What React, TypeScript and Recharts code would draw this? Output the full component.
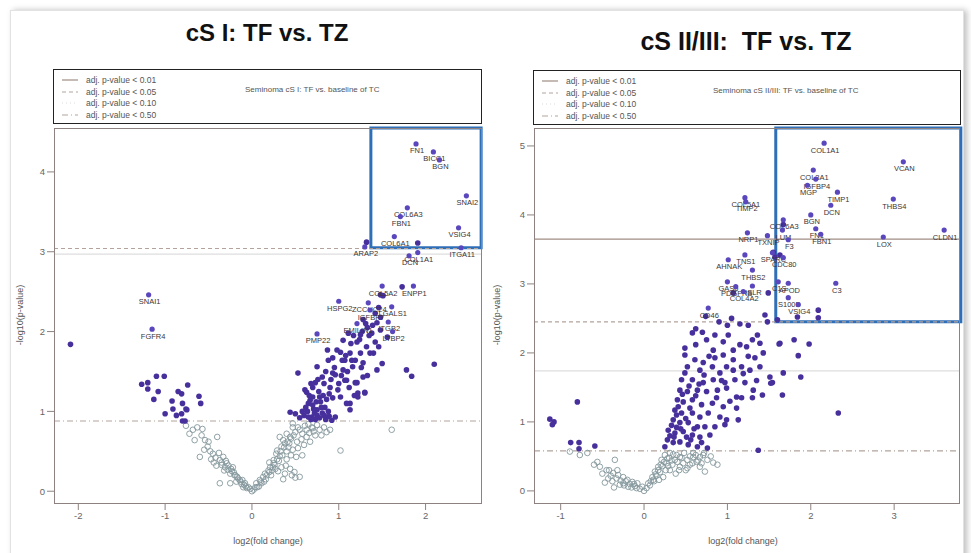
import React from 'react';
import { ScatterChart, Scatter, XAxis, YAxis, ReferenceLine, ReferenceArea } from 'recharts';

type P = [number, number];

// ---- cS I: TF vs. TZ ----
const leftUp: P[] = [
  [0.44, 0.99], [0.50, 0.97], [0.53, 1.48], [0.63, 1.24], [0.65, 1.10], [0.69, 0.93], [0.73, 1.36], [0.75, 1.56],
  [0.78, 1.18], [0.81, 1.43], [0.84, 1.05], [0.88, 1.64], [0.90, 1.30], [0.92, 0.89], [0.93, 1.48], [0.98, 1.77],
  [0.99, 1.27], [1.02, 1.18], [1.04, 1.64], [1.05, 1.52], [1.09, 1.39], [1.13, 1.02], [1.15, 1.64], [1.16, 1.56],
  [1.19, 1.36], [1.22, 1.18], [1.25, 1.73], [1.28, 1.43], [1.30, 1.24], [1.32, 1.81], [1.40, 1.73], [1.44, 1.52],
  [1.78, 1.52], [1.84, 1.44], [2.10, 1.59], [0.55, 0.92], [0.60, 0.95], [0.68, 0.90], [0.72, 0.98], [0.78, 0.92],
  [0.85, 0.90], [0.88, 1.00], [1.42, 2.23], [1.48, 2.18], [1.28, 2.15], [1.44, 2.11], [1.33, 2.05],
  [1.48, 2.02], [1.11, 1.98], [1.25, 1.96], [1.38, 1.98], [1.56, 1.93], [1.05, 1.89], [1.21, 1.87], [1.42, 1.87],
  [0.87, 1.77], [1.02, 1.74], [1.13, 1.73], [1.36, 1.73], [1.46, 1.81], [0.93, 1.67], [1.07, 1.64], [1.19, 1.64],
  [1.28, 1.61], [0.61, 1.27], [0.70, 1.18], [0.82, 1.20], [0.93, 1.17], [1.13, 1.10], [0.96, 1.46], [1.07, 1.39],
  [1.21, 1.36], [0.67, 1.14], [0.70, 1.08], [0.75, 1.02], [0.81, 0.98], [0.86, 0.93], [0.96, 0.93], [0.65, 0.93],
  [1.09, 1.10], [1.22, 1.23], [1.30, 1.23], [0.62, 1.05], [0.66, 1.20], [0.70, 1.30], [0.74, 1.12], [0.77, 1.25],
  [0.80, 1.05], [0.83, 1.35], [0.86, 1.15], [0.89, 1.22], [0.91, 1.40], [0.95, 1.55], [1.00, 1.35], [1.03, 1.45],
  [1.08, 1.70], [1.10, 1.50], [1.14, 1.85], [1.17, 1.95], [1.24, 1.90], [1.27, 2.00], [1.31, 2.10], [1.35, 1.95],
  [1.39, 2.08], [1.46, 2.30], [1.51, 2.45], [1.26, 1.55], [1.33, 1.45], [1.50, 1.60], [1.18, 1.20], [0.58, 1.00],
  [0.75, 0.95], [1.73, 2.56], [1.48, 2.46], [1.91, 3.11], [1.32, 3.12], [0.64, 1.00], [0.71, 1.03], [0.79, 1.12],
  [0.73, 0.90], [0.83, 0.95], [0.89, 0.94], [0.68, 1.35], [0.76, 1.40], [0.85, 1.50], [1.12, 1.30],
];
const leftDown: P[] = [
  [-2.09, 1.84], [-1.10, 1.44], [-1.01, 1.44], [-1.27, 1.34], [-1.20, 1.36], [-1.20, 1.28], [-1.08, 1.25],
  [-1.13, 1.15], [-0.85, 1.25], [-0.81, 1.22], [-0.74, 1.33], [-0.61, 1.19], [-0.59, 1.10], [-0.92, 1.13],
  [-0.80, 1.10], [-0.91, 1.03], [-0.76, 1.03], [-0.75, 1.02], [-1.00, 0.97], [-0.87, 0.95], [-0.81, 0.97],
  [-0.80, 0.88], [-0.77, 0.88],
];
const leftFaint: P[] = [
  [-0.68, 0.77], [-0.58, 0.70], [-0.66, 0.64], [-0.54, 0.64], [-0.51, 0.56], [-0.40, 0.68], [-0.60, 0.43],
  [-0.45, 0.47], [-0.37, 0.39], [-0.31, 0.30], [-0.25, 0.22], [-0.22, 0.30], [-0.17, 0.18], [-0.14, 0.14],
  [-0.08, 0.10], [-0.04, 0.05], [-0.37, 0.10], [-0.25, 0.10], [-0.72, 0.72], [-0.63, 0.80], [-0.48, 0.50],
  [-0.42, 0.42], [-0.35, 0.33], [-0.28, 0.27], [-0.20, 0.20], [-0.12, 0.09], [-0.06, 0.04], [-0.33, 0.43],
  [-0.29, 0.35], [-0.23, 0.25], [-0.18, 0.12], [-0.10, 0.05], [-0.76, 0.82], [-0.55, 0.52], [-0.44, 0.36],
  [-0.30, 0.38], [-0.27, 0.32], [-0.24, 0.28], [-0.21, 0.24], [-0.19, 0.20], [-0.16, 0.16], [-0.13, 0.12],
  [-0.11, 0.14], [-0.09, 0.08], [-0.07, 0.06], [-0.35, 0.36], [-0.32, 0.26], [-0.38, 0.48], [-0.50, 0.62],
  [-0.57, 0.78], [-0.47, 0.40], [-0.41, 0.32],
  [0.05, 0.10], [0.13, 0.18], [0.19, 0.26], [0.25, 0.35], [0.28, 0.47], [0.34, 0.56], [0.36, 0.64], [0.40, 0.72],
  [0.47, 0.80], [0.55, 0.77], [0.63, 0.68], [0.69, 0.80], [0.78, 0.77], [0.90, 0.77], [0.47, 0.52], [0.51, 0.43],
  [0.38, 0.22], [0.49, 0.24], [1.02, 0.51], [1.61, 0.77], [0.47, 0.85], [0.32, 0.68], [0.63, 0.77], [0.70, 0.79],
  [0.29, 0.51], [0.25, 0.39], [0.21, 0.30], [0.15, 0.22], [0.09, 0.14], [0.04, 0.05], [0.55, 0.18], [0.08, 0.06],
  [0.11, 0.10], [0.16, 0.15], [0.22, 0.20], [0.27, 0.28], [0.31, 0.38], [0.35, 0.45], [0.40, 0.50], [0.43, 0.60],
  [0.44, 0.68], [0.52, 0.62], [0.58, 0.72], [0.60, 0.58], [0.66, 0.73], [0.73, 0.70], [0.83, 0.80], [0.20, 0.36],
  [0.24, 0.30], [0.30, 0.25], [0.02, 0.02], [0.00, 0.00], [-0.02, 0.03],
  [0.06, 0.05], [0.10, 0.12], [0.14, 0.12], [0.17, 0.20], [0.20, 0.24], [0.23, 0.26], [0.26, 0.33], [0.29, 0.40],
  [0.32, 0.44], [0.33, 0.50], [0.37, 0.55], [0.38, 0.60], [0.41, 0.62], [0.42, 0.55], [0.45, 0.66], [0.48, 0.70],
  [0.50, 0.74], [0.53, 0.80], [0.57, 0.65], [0.61, 0.82], [0.65, 0.84], [0.67, 0.62], [0.71, 0.75], [0.75, 0.83],
  [0.80, 0.70], [0.86, 0.74], [0.34, 0.30], [0.40, 0.40], [0.45, 0.45], [0.39, 0.32], [0.44, 0.28], [0.53, 0.54],
  [0.58, 0.45], [0.36, 0.15], [0.50, 0.17], [0.46, 0.20],
];
const leftGenes = ['FN1', 'BICC1', 'BGN', 'SNAI2', 'COL6A3', 'FBN1', 'VSIG4', 'COL6A1', 'ITGA11', 'COL1A1', 'DCN', 'ARAP2',
  'COL5A2', 'ENPP1', 'HSPG2', 'ZCCHC24', 'IGFBP7', 'LGALS1', 'ITGB2', 'EMILIN1', 'LTBP2', 'PMP22', 'SNAI1', 'FGFR4'];
const leftGeneX = [1.89, 2.09, 2.16, 2.47, 1.79, 1.71, 2.38, 1.64, 2.41, 1.91, 1.81, 1.30,
  1.50, 1.86, 1.00, 1.34, 1.36, 1.61, 1.57, 1.21, 1.62, 0.75, -1.19, -1.15];
const leftGeneY = [4.35, 4.25, 4.15, 3.70, 3.55, 3.44, 3.30, 3.19, 3.05, 2.99, 2.95, 3.06,
  2.57, 2.57, 2.38, 2.36, 2.27, 2.31, 2.12, 2.10, 2.00, 1.97, 2.46, 2.03];
const leftCuts = [3.04, 2.97, 0.88]; // p<0.05, p<0.10, p<0.50

// ---- cS II/III: TF vs. TZ ----
const rightUp: P[] = [
  [0.58, 2.29], [0.62, 2.12], [0.49, 2.07], [0.49, 1.97], [0.75, 2.19], [0.85, 2.26], [0.83, 2.04], [0.95, 2.16],
  [1.01, 2.26], [1.07, 2.04], [1.15, 2.12], [1.23, 2.09], [1.30, 2.19], [1.36, 2.26], [1.39, 2.14], [1.43, 2.00],
  [1.63, 2.14], [1.33, 1.93], [1.07, 1.90], [0.95, 1.97], [0.85, 1.93], [0.61, 1.90], [0.71, 1.86], [0.52, 1.80],
  [0.49, 1.71], [0.67, 1.75], [0.82, 1.80], [0.91, 1.71], [0.99, 1.80], [1.07, 1.75], [1.17, 1.80], [1.27, 1.75],
  [1.39, 1.80], [1.51, 1.65], [1.67, 1.71], [0.45, 1.61], [0.58, 1.61], [0.71, 1.57], [0.83, 1.61], [0.97, 1.57],
  [1.09, 1.61], [1.21, 1.57], [1.31, 1.46], [1.54, 1.57], [1.42, 1.39], [1.30, 1.35], [1.66, 1.39], [0.43, 1.46],
  [0.52, 1.44], [0.64, 1.46], [0.75, 1.44], [0.88, 1.46], [0.99, 1.49], [1.11, 1.36], [1.17, 1.35], [0.40, 1.32],
  [0.47, 1.29], [0.58, 1.32], [0.69, 1.25], [0.82, 1.27], [0.95, 1.22], [1.11, 1.20], [0.37, 1.17], [0.45, 1.13],
  [0.58, 1.13], [0.67, 1.07], [0.77, 1.13], [0.91, 1.07], [0.99, 1.03], [1.13, 1.03], [0.35, 1.03], [0.43, 0.99],
  [0.53, 0.99], [0.64, 0.93], [0.73, 0.93], [0.85, 0.93], [0.97, 0.96], [0.29, 0.88], [0.37, 0.84], [0.47, 0.86],
  [0.58, 0.81], [0.67, 0.78], [0.79, 0.81], [0.28, 0.74], [0.35, 0.70], [0.43, 0.71], [0.53, 0.67], [0.64, 0.64],
  [0.76, 0.62], [0.25, 0.64], [1.37, 0.59], [2.33, 1.13], [1.88, 1.65], [1.85, 1.96], [1.98, 2.13], [1.80, 2.19],
  [1.62, 2.13], [1.52, 1.56], [0.74, 2.53], [1.45, 2.55], [1.48, 2.45], [1.60, 2.48], [1.84, 2.52], [2.09, 2.51],
  [2.09, 2.62], [1.49, 2.87], [1.07, 2.87], [1.57, 3.39], [1.63, 3.42], [1.55, 3.46], [1.67, 3.86], [0.90, 2.45],
  [1.00, 2.40], [1.05, 2.50], [1.15, 2.42], [1.25, 2.40], [0.62, 2.35], [0.70, 2.30], [0.33, 0.95], [0.39, 1.10],
  [0.41, 1.22], [0.44, 0.90], [0.50, 1.05], [0.55, 1.20], [0.60, 0.90], [0.62, 1.38], [0.66, 1.55], [0.72, 1.68],
  [0.78, 1.95], [0.87, 1.35], [0.93, 1.60], [1.03, 1.30], [1.19, 1.70], [1.25, 1.95], [1.35, 1.60], [0.36, 0.78],
  [0.31, 0.80], [0.39, 0.92], [0.56, 0.74], [0.69, 0.70], [0.46, 1.40], [0.54, 1.52], [0.51, 0.78],
];
const rightDown: P[] = [
  [-1.13, 1.04], [-1.08, 1.00], [-1.10, 0.96], [-0.80, 1.29], [-0.88, 0.70], [-0.78, 0.70], [-0.78, 0.61], [-0.59, 0.65],
];
const rightFaint: P[] = [
  [-0.56, 0.42], [-0.53, 0.35], [-0.35, 0.45], [-0.37, 0.26], [-0.31, 0.23], [-0.25, 0.20], [-0.20, 0.16],
  [-0.14, 0.13], [-0.08, 0.11], [-0.02, 0.06], [-0.25, 0.11], [-0.29, 0.09], [-0.68, 0.55], [-0.77, 0.52],
  [-0.89, 0.57], [-0.40, 0.22], [-0.33, 0.18], [-0.22, 0.14], [-0.17, 0.10], [-0.11, 0.07], [-0.05, 0.03],
  [-0.42, 0.30], [-0.36, 0.05], [0.05, 0.11], [0.10, 0.20], [0.13, 0.28], [0.17, 0.35], [0.21, 0.45], [0.25, 0.52],
  [0.31, 0.55], [0.37, 0.45], [0.43, 0.49], [0.52, 0.45], [0.59, 0.49], [0.67, 0.49], [0.76, 0.45], [0.43, 0.35],
  [0.31, 0.30], [0.23, 0.20], [0.52, 0.33], [0.59, 0.55], [0.83, 0.41], [0.73, 0.28], [0.67, 0.35], [0.03, 0.04],
  [0.07, 0.08], [0.12, 0.14], [0.15, 0.22], [0.19, 0.27], [0.22, 0.36], [0.27, 0.40], [0.34, 0.38], [0.39, 0.52],
  [0.47, 0.40], [0.55, 0.38], [0.63, 0.42], [0.71, 0.52], [0.28, 0.47], [0.00, 0.00], [0.18, 0.16],
  [-0.45, 0.30], [-0.50, 0.25], [-0.43, 0.18], [-0.38, 0.14], [-0.28, 0.15], [-0.24, 0.08], [-0.19, 0.06],
  [-0.15, 0.05], [-0.12, 0.10], [-0.09, 0.04], [-0.60, 0.38], [-0.47, 0.12], [-0.32, 0.30], [0.08, 0.14],
  [0.11, 0.16], [0.14, 0.24], [0.17, 0.30], [0.20, 0.38], [0.24, 0.42], [0.26, 0.30], [0.29, 0.36], [0.30, 0.48],
  [0.33, 0.44], [0.35, 0.53], [0.40, 0.42], [0.42, 0.30], [0.45, 0.48], [0.48, 0.55], [0.50, 0.30], [0.55, 0.50],
  [0.58, 0.40], [0.62, 0.52], [0.65, 0.44], [0.69, 0.40], [0.72, 0.55], [0.80, 0.50], [0.88, 0.38], [0.38, 0.25],
];
const rightGenes = ['COL1A1', 'VCAN', 'COL3A1', 'IGFBP4', 'MGP', 'TIMP1', 'THBS4', 'DCN', 'BGN', 'COL6A3', 'LUM', 'FN1',
  'FBN1', 'CLDN1', 'LOX', 'F3', 'COL5A1', 'TIMP2', 'NRP1', 'TXNIP', 'TNS1', 'SPARC', 'AHNAK', 'CDC80', 'THBS2',
  'C1S', 'APOD', 'C3', 'S100B', 'VSIG4', 'CD46', 'GAS6', 'PDGFRB', 'COL4A2', 'ISLR'];
const rightGeneX = [2.16, 3.11, 2.03, 2.06, 1.96, 2.32, 2.99, 2.24, 2.00, 1.67, 1.66, 2.06,
  2.12, 3.60, 2.87, 1.73, 1.21, 1.22, 1.24, 1.48, 1.21, 1.54, 1.01, 1.67, 1.30,
  1.61, 1.73, 2.30, 1.73, 1.85, 0.77, 1.00, 1.10, 1.19, 1.30];
const rightGeneY = [5.04, 4.77, 4.65, 4.52, 4.43, 4.33, 4.23, 4.14, 4.00, 3.93, 3.78, 3.80,
  3.72, 3.78, 3.68, 3.64, 4.25, 4.19, 3.74, 3.70, 3.42, 3.45, 3.35, 3.38, 3.20,
  3.03, 3.01, 3.01, 2.80, 2.70, 2.65, 3.03, 2.96, 2.89, 2.97];
const rightCuts = [3.65, 2.45, 1.74, 0.58]; // p<0.01, p<0.05, p<0.10, p<0.50

const legendRows = ['adj. p-value < 0.01', 'adj. p-value < 0.05', 'adj. p-value < 0.10', 'adj. p-value < 0.50'];

const FONT = '"Liberation Sans", Arial, sans-serif';
const PURPLE = '#47309c';
const GENE_PURPLE = '#5b47bd';
const GREY = '#85979d';
const CUT = '#b3a39b';
const BOX = '#8e8280';
const BLUE = '#2f6fb8';

const pts = (arr: P[]) => arr.map(([x, y]) => ({ x, y }));
const genes = (names: string[], xs: number[], ys: number[]) => names.map((name, i) => ({ x: xs[i], y: ys[i], name }));

const dot = (p: any) => <circle cx={p.cx} cy={p.cy} r={2.8} fill={PURPLE} />;
const ring = (p: any) => <circle cx={p.cx} cy={p.cy} r={2.8} fill="none" stroke={GREY} strokeWidth={0.9} />;
const geneDot = (p: any) => (
  <g>
    <circle cx={p.cx} cy={p.cy} r={2.6} fill={GENE_PURPLE} />
    <text x={p.cx + 1} y={p.cy + 9.5} textAnchor="middle" fontSize={7.5} fill="#3b3434" fontFamily={FONT}>
      {p.payload?.name}
    </text>
  </g>
);

const lineStyle = [
  { dash: undefined, color: '#a08c84' },
  { dash: '4 3', color: CUT },
  { dash: '1 3', color: '#dcdcdc' },
  { dash: '6 3 1 3', color: CUT },
];

function LegendBox({ left, top, width, title, titleLeft }: any) {
  return (
    <div style={{ position: 'absolute', left, top, width, height: 55, border: '1.5px solid #222', boxSizing: 'border-box', fontFamily: FONT, fontSize: 8.5, color: '#555' }}>
      {legendRows.map((t, i) => (
        <div key={t} style={{ position: 'absolute', left: 8, top: 5 + i * 11.5, display: 'flex', alignItems: 'center' }}>
          <svg width={18} height={6}>
            <line x1={0} y1={3} x2={16} y2={3} stroke={lineStyle[i].color} strokeWidth={1.2} strokeDasharray={lineStyle[i].dash} />
          </svg>
          <span style={{ marginLeft: 6 }}>{t}</span>
        </div>
      ))}
      <div style={{ position: 'absolute', left: titleLeft, top: 15, fontSize: 8, color: '#555' }}>{title}</div>
    </div>
  );
}

function Panel(props: any) {
  const { left, width, ml, mr, xDomain, yDomain, xTicks, yTicks, up, down, faint, labelled, cuts, area } = props;
  return (
    <div style={{ position: 'absolute', left, top: 0 }}>
      <ScatterChart width={width} height={553} margin={{ top: 128, right: mr, bottom: 19, left: ml }}>
        <XAxis type="number" dataKey="x" domain={xDomain} ticks={xTicks} allowDataOverflow axisLine={false}
          tickLine={{ stroke: BOX }} tickSize={6} height={30} tick={{ fontSize: 9.5, fill: '#666', fontFamily: FONT }} />
        <YAxis type="number" dataKey="y" domain={yDomain} ticks={yTicks} allowDataOverflow axisLine={false}
          tickLine={{ stroke: BOX }} tickSize={7} width={30} tick={{ fontSize: 9.5, fill: '#666', fontFamily: FONT }} />
        {cuts.map((c: any, i: number) => (
          <ReferenceLine key={i} y={c.y} stroke={c.color} strokeDasharray={c.dash} strokeWidth={1.1} ifOverflow="hidden" />
        ))}
        <Scatter data={faint} shape={ring} isAnimationActive={false} />
        <Scatter data={down} shape={dot} isAnimationActive={false} />
        <Scatter data={up} shape={dot} isAnimationActive={false} />
        <Scatter data={labelled} shape={geneDot} isAnimationActive={false} />
        <ReferenceArea x1={area[0]} x2={area[1]} y1={area[2]} y2={area[3]} fill="none" stroke={BLUE} strokeWidth={3} ifOverflow="visible" />
      </ScatterChart>
    </div>
  );
}

export default function App() {
  return (
    <div style={{ position: 'absolute', left: 0, top: 0, width: 971, height: 553, background: '#fff', overflow: 'hidden', fontFamily: FONT }}>
      <div style={{ position: 'absolute', left: 10, top: 10, width: 952, height: 560, border: '1px solid #e2e2e2', boxShadow: '3px 0 6px rgba(0,0,0,0.25)' }} />
      <div style={{ position: 'absolute', left: 167, top: 19, width: 200, textAlign: 'center', fontWeight: 'bold', fontSize: 24, color: '#111' }}>cS I: TF vs. TZ</div>
      <div style={{ position: 'absolute', left: 626, top: 27, width: 240, textAlign: 'center', fontWeight: 'bold', fontSize: 25, color: '#111', whiteSpace: 'pre' }}>cS II/III:  TF vs. TZ</div>

      <LegendBox left={53} top={69} width={429} title="Seminoma cS I: TF vs. baseline of TC" titleLeft={191} />
      <LegendBox left={533} top={70} width={428} title="Seminoma cS II/III: TF vs. baseline of TC" titleLeft={179} />

      <Panel left={0} width={490} ml={24} mr={8} xDomain={[-2.28, 2.65]} yDomain={[-0.16, 4.55]}
        xTicks={[-2, -1, 0, 1, 2]} yTicks={[0, 1, 2, 3, 4]}
        up={pts(leftUp)} down={pts(leftDown)} faint={pts(leftFaint)} labelled={genes(leftGenes, leftGeneX, leftGeneY)}
        cuts={[
          { y: leftCuts[0], color: CUT, dash: '4 3' },
          { y: leftCuts[1], color: '#dedede', dash: undefined },
          { y: leftCuts[2], color: CUT, dash: '6 3 1 3' },
        ]}
        area={[1.37, 2.64, 3.05, 4.55]} />
      <Panel left={490} width={481} ml={14} mr={11} xDomain={[-1.32, 3.79]} yDomain={[-0.19, 5.26]}
        xTicks={[-1, 0, 1, 2, 3]} yTicks={[0, 1, 2, 3, 4, 5]}
        up={pts(rightUp)} down={pts(rightDown)} faint={pts(rightFaint)} labelled={genes(rightGenes, rightGeneX, rightGeneY)}
        cuts={[
          { y: rightCuts[0], color: '#a08c84', dash: undefined },
          { y: rightCuts[1], color: CUT, dash: '4 3' },
          { y: rightCuts[2], color: '#dedede', dash: undefined },
          { y: rightCuts[3], color: CUT, dash: '6 3 1 3' },
        ]}
        area={[1.58, 3.8, 2.45, 5.26]} />

      <div style={{ position: 'absolute', left: 54, top: 128, width: 428, height: 376, border: `1.2px solid ${BOX}`, boxSizing: 'border-box', pointerEvents: 'none' }} />
      <div style={{ position: 'absolute', left: 534, top: 128, width: 426, height: 376, border: `1.2px solid ${BOX}`, boxSizing: 'border-box', pointerEvents: 'none' }} />

      <div style={{ position: 'absolute', left: 168, top: 536, width: 200, textAlign: 'center', fontSize: 9, color: '#555' }}>log2(fold change)</div>
      <div style={{ position: 'absolute', left: 643, top: 536, width: 200, textAlign: 'center', fontSize: 9, color: '#555' }}>log2(fold change)</div>
      <div style={{ position: 'absolute', left: -30, top: 310, width: 100, textAlign: 'center', fontSize: 9, color: '#555', transform: 'rotate(-90deg)' }}>-log10(p-value)</div>
      <div style={{ position: 'absolute', left: 447, top: 310, width: 100, textAlign: 'center', fontSize: 9, color: '#555', transform: 'rotate(-90deg)' }}>-log10(p-value)</div>
    </div>
  );
}
